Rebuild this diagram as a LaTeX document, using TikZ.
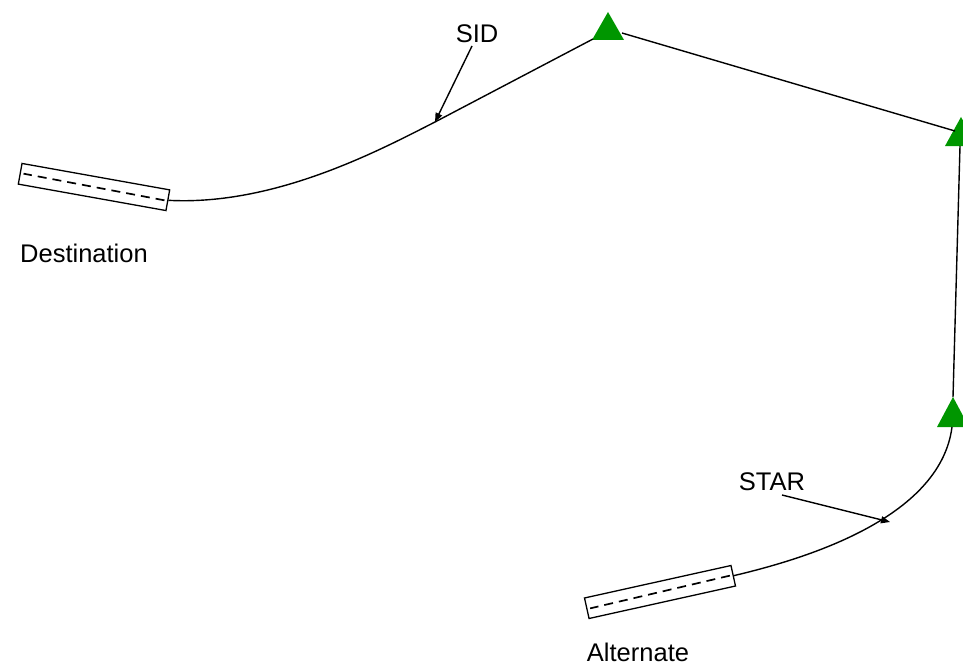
\documentclass[tikz,border=0pt]{standalone}
\usepackage{fontspec}
\setmainfont{Liberation Sans}
\usetikzlibrary{arrows.meta}
\definecolor{wpgreen}{RGB}{0,150,0}
\begin{document}
\begin{tikzpicture}[x=1pt,y=-1pt,
  rwy/.style={draw,line width=1.3pt,minimum width=150pt,minimum height=21pt,inner sep=0pt},
  cline/.style={line width=1.7pt,dash pattern=on 9pt off 6pt},
  route/.style={line width=1.4pt},
  lbl/.style={font=\fontsize{25.5}{30}\selectfont,inner sep=0pt},
  callout/.style={line width=1.4pt,-{Triangle[length=9pt,width=7pt]}},
  wpt/.style={fill=wpgreen}]
\useasboundingbox (0,0) rectangle (963,666);
% runways
\node[rwy,rotate=-10.15] (dst) at (94,187) {};
\draw[cline] ([xshift=-4pt]dst.east) -- ([xshift=4pt]dst.west);
\node[rwy,rotate=12.5] (alt) at (660,592) {};
\draw[cline] ([xshift=-4pt]alt.east) -- ([xshift=4pt]alt.west);
% waypoints
\fill[wpt] (608,12) -- (624,40) -- (592,40) -- cycle;
\fill[wpt] (961,117) -- (977,146) -- (945,146) -- cycle;
\fill[wpt] (953,397) -- (969,427) -- (937,427) -- cycle;
\coordinate (w1bl) at (593,39);
\coordinate (w1br) at (622,33);
\coordinate (w2l) at (955,131);
\coordinate (w2b) at (960,146);
\coordinate (w3t) at (953,397);
\coordinate (w3b) at (952,427);
% routes
\coordinate (sidp) at (435,122);
\draw[route] (dst.east) .. controls (275,206) and (380,150) .. (sidp) -- (w1bl);
\draw[route] (w1br) -- (w2l);
\draw[route] (w2b) -- (w3t);
\draw[route] (alt.east) .. controls (800,560) and (940,520) .. (w3b);
% labels
\node[lbl] (sid) at (477,34) {SID};
\node[lbl] (star) at (772,482) {STAR};
\node[lbl] (dlab) at (84,253) {Destination};
\node[lbl] (alab) at (638,652) {Alternate};
\coordinate (sidt) at (472,46);
\coordinate (start) at (782,495);
\coordinate (starp) at (890,522);
\draw[callout] (sidt) -- (sidp);
\draw[callout] (start) -- (starp);
\end{tikzpicture}
\end{document}
